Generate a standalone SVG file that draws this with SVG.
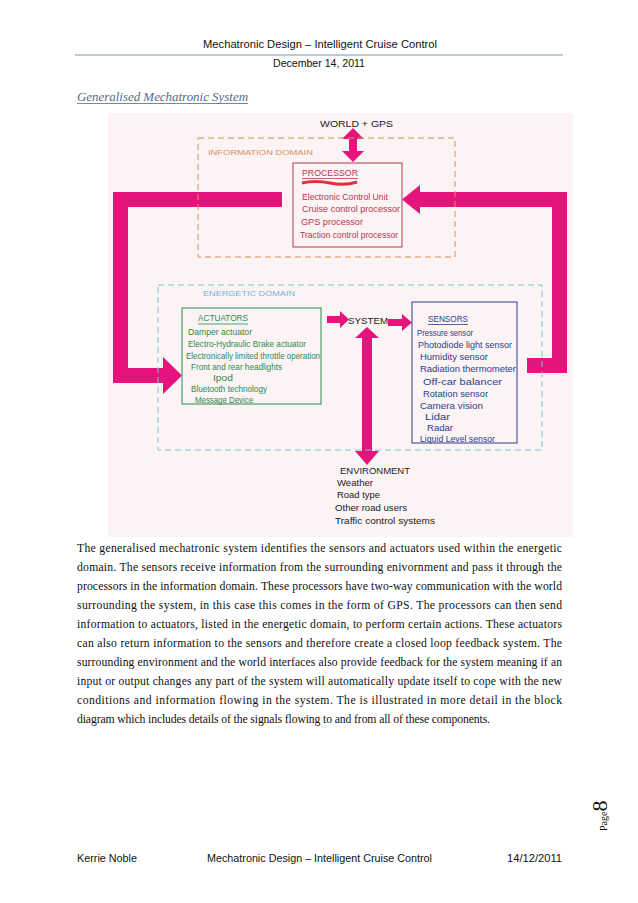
<svg xmlns="http://www.w3.org/2000/svg" width="638" height="903" viewBox="0 0 638 903">
<style>
.hdr{font-family:"Liberation Sans",Arial,sans-serif;font-size:10px;fill:#111}
.title{font-family:"Liberation Serif","Times New Roman",serif;font-style:italic;font-size:12.5px;fill:#4f6a8f}
.para{font-family:"Liberation Serif","Times New Roman",serif;font-size:11.7px;fill:#111}
.hw{font-family:"Liberation Sans",Arial,sans-serif;font-size:9px}
.hd{font-family:"Liberation Sans",Arial,sans-serif;font-size:8.5px}
.cap{font-family:"Liberation Sans",Arial,sans-serif;font-size:7.5px}
.proc{fill:#b8384f}
.act{fill:#2f8a4f}
.sen{fill:#2b3e8f}
.blk{fill:#222}
.pink{fill:#e4147c}
</style>
<rect x="0" y="0" width="638" height="903" fill="#ffffff"/>
<!-- header -->
<text class="hdr" x="203" y="48" textLength="234" lengthAdjust="spacingAndGlyphs">Mechatronic Design – Intelligent Cruise Control</text>
<line x1="75" y1="55" x2="563" y2="55" stroke="#a7b9cc" stroke-width="1.3"/>
<text class="hdr" x="273" y="67" textLength="92" lengthAdjust="spacingAndGlyphs">December 14, 2011</text>
<text class="title" x="77" y="101" textLength="171" lengthAdjust="spacingAndGlyphs">Generalised Mechatronic System</text>
<line x1="77" y1="103.5" x2="248" y2="103.5" stroke="#4f6a8f" stroke-width="0.8"/>

<!-- photo background -->
<rect x="108" y="113" width="465" height="424" fill="#fbf3f4"/>

<g id="connectors">
  <polygon class="pink" points="282,192 113,192 113,383 163,383 163,394 182,375.5 163,357 163,368 128,368 128,207 282,207"/>
  <polygon class="pink" points="527,358 552,358 552,207 420,207 420,214 402,199.5 420,185 420,192 567,192 567,373 527,373"/>
  <polygon class="pink" points="353,128 364,139 357,139 357,151 364,151 353,162 342,151 349,151 349,139 342,139"/>
  <polygon class="pink" points="327,316 340,316 340,311 349,319.5 340,328 340,323 327,323"/>
  <polygon class="pink" points="388,319 402,319 402,314 412,322.5 402,331 402,326 388,326"/>
  <polygon class="pink" points="367,327 379,338 372,338 372,451 379,451 367,465 355,451 362,451 362,338 355,338"/>
</g>

<g id="world">
  <text class="hd blk" x="320" y="127" textLength="73" lengthAdjust="spacingAndGlyphs">WORLD + GPS</text>
</g>

<g id="information-domain">
  <rect x="198" y="138" width="257" height="119" fill="none" stroke="#d9915c" stroke-width="1" stroke-dasharray="6,4"/>
  <text class="cap" x="208" y="155" fill="#d98f5c" textLength="105" lengthAdjust="spacingAndGlyphs">INFORMATION DOMAIN</text>
</g>

<g id="processor">
  <rect x="293" y="163" width="109" height="84" fill="none" stroke="#b8384f" stroke-width="1"/>
  <text class="hd proc" x="302" y="176" textLength="56" lengthAdjust="spacingAndGlyphs">PROCESSOR</text>
  <line x1="302" y1="178.5" x2="358" y2="178.5" stroke="#b8384f" stroke-width="0.8"/>
  <path d="M302,183 Q315,180 330,183 T357,182" fill="none" stroke="#e0303c" stroke-width="3"/>
  <text class="hw proc" x="302" y="200" textLength="86" lengthAdjust="spacingAndGlyphs">Electronic Control Unit</text>
  <text class="hw proc" x="302" y="212" textLength="98" lengthAdjust="spacingAndGlyphs">Cruise control processor</text>
  <text class="hw proc" x="301" y="225" textLength="62" lengthAdjust="spacingAndGlyphs">GPS processor</text>
  <text class="hw proc" x="300" y="238" textLength="98" lengthAdjust="spacingAndGlyphs">Traction control processor</text>
</g>

<g id="energetic-domain">
  <rect x="158" y="285" width="384" height="165" fill="none" stroke="#7cc4d4" stroke-width="1" stroke-dasharray="6,4"/>
  <text class="cap" x="203" y="296" fill="#72b6d8" textLength="92" lengthAdjust="spacingAndGlyphs">ENERGETIC DOMAIN</text>
</g>

<g id="actuators">
  <rect x="182" y="308" width="139" height="96" fill="none" stroke="#2f8a4f" stroke-width="1"/>
  <text class="hd act" x="198" y="321" textLength="50" lengthAdjust="spacingAndGlyphs">ACTUATORS</text>
  <line x1="198" y1="324" x2="248" y2="324" stroke="#2f8a4f" stroke-width="0.8"/>
  <text class="hw act" x="188" y="335" textLength="64" lengthAdjust="spacingAndGlyphs">Damper actuator</text>
  <text class="hw act" x="188" y="347" textLength="118" lengthAdjust="spacingAndGlyphs">Electro-Hydraulic Brake actuator</text>
  <text class="hw act" x="186" y="358.5" textLength="134" lengthAdjust="spacingAndGlyphs">Electronically limited throttle operation</text>
  <text class="hw act" x="191" y="370" textLength="91" lengthAdjust="spacingAndGlyphs">Front and rear headlights</text>
  <text class="hw act" x="213" y="381" textLength="20" lengthAdjust="spacingAndGlyphs">Ipod</text>
  <text class="hw act" x="191" y="392" textLength="76" lengthAdjust="spacingAndGlyphs">Bluetooth technology</text>
  <text class="hw act" x="195" y="403" font-size="8.5" textLength="58" lengthAdjust="spacingAndGlyphs">Message Device</text>
</g>

<g id="system">
  <text class="hd blk" x="348" y="324" textLength="40" lengthAdjust="spacingAndGlyphs">SYSTEM</text>
</g>

<g id="sensors">
  <rect x="412" y="302" width="105" height="141" fill="none" stroke="#2b3e8f" stroke-width="1"/>
  <text class="hd sen" x="428" y="322" textLength="40" lengthAdjust="spacingAndGlyphs">SENSORS</text>
  <line x1="428" y1="324.5" x2="468" y2="324.5" stroke="#2b3e8f" stroke-width="0.8"/>
  <text class="hw sen" x="417" y="336" textLength="56" lengthAdjust="spacingAndGlyphs">Pressure sensor</text>
  <text class="hw sen" x="418" y="348" textLength="94" lengthAdjust="spacingAndGlyphs">Photodiode light sensor</text>
  <text class="hw sen" x="420" y="360" textLength="68" lengthAdjust="spacingAndGlyphs">Humidity sensor</text>
  <text class="hw sen" x="420" y="372" textLength="96" lengthAdjust="spacingAndGlyphs">Radiation thermometer</text>
  <text class="hw sen" x="423" y="384.5" textLength="79" lengthAdjust="spacingAndGlyphs">Off-car balancer</text>
  <text class="hw sen" x="423" y="396.5" textLength="65" lengthAdjust="spacingAndGlyphs">Rotation sensor</text>
  <text class="hw sen" x="420" y="408.5" textLength="63" lengthAdjust="spacingAndGlyphs">Camera vision</text>
  <text class="hw sen" x="425" y="420" textLength="25" lengthAdjust="spacingAndGlyphs">Lidar</text>
  <text class="hw sen" x="427" y="431" textLength="26" lengthAdjust="spacingAndGlyphs">Radar</text>
  <text class="hw sen" x="420" y="442" font-size="7.5" textLength="75" lengthAdjust="spacingAndGlyphs">Liquid Level sensor</text>
</g>

<g id="environment">
  <text class="hd blk" x="340" y="474" textLength="70" lengthAdjust="spacingAndGlyphs">ENVIRONMENT</text>
  <text class="hw blk" x="337" y="486" textLength="36" lengthAdjust="spacingAndGlyphs">Weather</text>
  <text class="hw blk" x="337" y="498" textLength="43" lengthAdjust="spacingAndGlyphs">Road type</text>
  <text class="hw blk" x="335" y="511" textLength="72" lengthAdjust="spacingAndGlyphs">Other road users</text>
  <text class="hw blk" x="335" y="524" textLength="100" lengthAdjust="spacingAndGlyphs">Traffic control systems</text>
</g>

<!-- paragraph -->
<g class="para">
  <text x="77" y="552" textLength="485" lengthAdjust="spacing">The generalised mechatronic system identifies the sensors and actuators used within the energetic</text>
  <text x="77" y="571" textLength="485" lengthAdjust="spacing">domain.  The sensors receive information from the surrounding enivornment and pass it through the</text>
  <text x="77" y="590" textLength="485" lengthAdjust="spacing">processors in the information domain. These processors have two-way communication with the world</text>
  <text x="77" y="609" textLength="485" lengthAdjust="spacing">surrounding the system, in this case this comes in the form of GPS.  The processors can then send</text>
  <text x="77" y="628" textLength="485" lengthAdjust="spacing">information to actuators, listed in the energetic domain, to perform certain actions.  These actuators</text>
  <text x="77" y="647" textLength="485" lengthAdjust="spacing">can also return information to the sensors and therefore create a closed loop feedback system.  The</text>
  <text x="77" y="666" textLength="485" lengthAdjust="spacing">surrounding environment and the world interfaces also provide feedback for the system meaning if an</text>
  <text x="77" y="685" textLength="485" lengthAdjust="spacing">input or output changes any part of the system will automatically update itself to cope with the new</text>
  <text x="77" y="704" textLength="485" lengthAdjust="spacing">conditions and information flowing in the system.  The is illustrated in more detail in the block</text>
  <text x="77" y="723" textLength="413" lengthAdjust="spacing">diagram which includes details of the signals flowing to and from all of these components.</text>
</g>

<!-- page number -->
<text transform="translate(607,831) rotate(-90)" font-family="'Liberation Serif','Times New Roman',serif" fill="#111"><tspan font-size="10">Page</tspan><tspan font-size="22">8</tspan></text>

<!-- footer -->
<text class="hdr" x="77" y="862" textLength="60" lengthAdjust="spacingAndGlyphs">Kerrie Noble</text>
<text class="hdr" x="207" y="862" textLength="225" lengthAdjust="spacingAndGlyphs">Mechatronic Design – Intelligent Cruise Control</text>
<text class="hdr" x="507" y="862" textLength="55" lengthAdjust="spacingAndGlyphs">14/12/2011</text>
</svg>
